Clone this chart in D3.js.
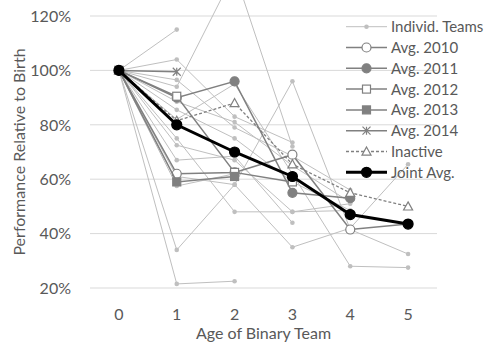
<!DOCTYPE html>
<html>
<head>
<meta charset="utf-8">
<script src="https://cdn.jsdelivr.net/npm/d3@7"></script>
<style>
  body { margin: 0; background: #fff; }
  text { font-family: Lato, "Open Sans", sans-serif; fill: #595959; }
</style>
</head>
<body>
<div id="chart"></div>
<script>
// Ages on the x axis and y tick values
var ages = [0, 1, 2, 3, 4, 5];
var yTicks = [20, 40, 60, 80, 100, 120];

// Individual teams (performance relative to birth, %)
var teams = [
  [100, 115],
  [100, 104, 83, 73.5],
  [100, 94, 136, 72],
  [100, 96.5, 79, 68.5, 56],
  [100, 88.5, 81, 65, 51.5],
  [100, 85.5, 75, 59, 48.5],
  [100, 82, 95, 62, 28, 27.5],
  [100, 72.5, 67, 48, 48.5],
  [100, 67, 68.5, 44],
  [100, 75, 48, 48, 51],
  [100, 34, 58, 96, 41.5, 32.5],
  [100, 21.5, 22.5],
  [100, 61, 58, 35, 42, 65.5],
  [100, 57.5, 62]
];

// Averages per cohort
var avg2010 = [100, 62, 62.5, 69, 41.5, 43.5];
var avg2011 = [100, 90, 96, 55, 53];
var avg2012 = [100, 90.5, 62.5, 59];
var avg2013 = [100, 59, 61];
var avg2014 = [100, 99.5];
var inactive = [100, 81.5, 88, 65.5, 55, 50];
var jointAvg = [100, 80, 70, 61, 47, 43.5];

var width = 486, height = 343;
var gray = "#808080", light = "#bfbfbf";

var svg = d3.select("#chart").append("svg")
  .attr("width", width)
  .attr("height", height);

var x = d3.scalePoint().domain(ages).range([90, 437]).padding(0.5);
var y = d3.scaleLinear().domain([20, 120]).range([288, 16]);

// gridlines
svg.append("g").selectAll("line")
  .data(yTicks)
  .enter().append("line")
  .attr("x1", 90).attr("x2", 437)
  .attr("y1", function(d) { return y(d); })
  .attr("y2", function(d) { return y(d); })
  .style("stroke", "#d9d9d9")
  .style("stroke-width", 1);

// y tick labels
svg.append("g").selectAll("text")
  .data(yTicks)
  .enter().append("text")
  .attr("x", 71)
  .attr("y", function(d) { return y(d); })
  .attr("dy", "0.36em")
  .attr("text-anchor", "end")
  .style("font-size", "16px")
  .text(function(d) { return d + "%"; });

// x tick labels
svg.append("g").selectAll("text")
  .data(ages)
  .enter().append("text")
  .attr("x", function(d) { return x(d); })
  .attr("y", 320)
  .attr("text-anchor", "middle")
  .style("font-size", "16px")
  .text(function(d) { return d; });

// axis titles
svg.append("text")
  .attr("x", (x(2) + x(3)) / 2)
  .attr("y", 339)
  .attr("text-anchor", "middle")
  .style("font-size", "16px")
  .text("Age of Binary Team");

svg.append("text")
  .attr("transform", "translate(25," + ((y(20) + y(120)) / 2) + ") rotate(-90)")
  .attr("text-anchor", "middle")
  .style("font-size", "16px")
  .text("Performance Relative to Birth");

var line = d3.line()
  .x(function(d, i) { return x(ages[i]); })
  .y(function(d) { return y(d); });

// marker drawing helper
function marker(g, type, cx, cy, opts) {
  var r = opts.r;
  if (type == "dot" || type == "circle" || type == "openCircle") {
    g.append("circle")
      .attr("cx", cx).attr("cy", cy).attr("r", r)
      .style("fill", type == "openCircle" ? "#fff" : opts.color)
      .style("stroke", opts.color)
      .style("stroke-width", type == "dot" ? 0 : 1.2);
  } else if (type == "square" || type == "openSquare") {
    g.append("rect")
      .attr("x", cx - r).attr("y", cy - r)
      .attr("width", 2 * r).attr("height", 2 * r)
      .style("fill", type == "openSquare" ? "#fff" : opts.color)
      .style("stroke", opts.color)
      .style("stroke-width", 1.2);
  } else if (type == "star") {
    var p = "M" + (cx - r) + "," + (cy - r) + "L" + (cx + r) + "," + (cy + r) +
      "M" + (cx - r) + "," + (cy + r) + "L" + (cx + r) + "," + (cy - r) +
      "M" + cx + "," + (cy - r) + "L" + cx + "," + (cy + r);
    g.append("path").attr("d", p)
      .style("fill", "none").style("stroke", opts.color).style("stroke-width", 1.2);
  } else if (type == "triangle") {
    var t = "M" + cx + "," + (cy - r) + "L" + (cx + r) + "," + (cy + r * 0.8) +
      "L" + (cx - r) + "," + (cy + r * 0.8) + "Z";
    g.append("path").attr("d", t)
      .style("fill", "#fff").style("stroke", opts.color).style("stroke-width", 1.2);
  }
}

var series = [];
teams.forEach(function(t) {
  series.push({ values: t, color: light, width: 1, marker: "dot", r: 2.3, dash: null });
});
series.push({ name: "Avg. 2010", values: avg2010, color: gray, width: 1.5, marker: "openCircle", r: 4.5 });
series.push({ name: "Avg. 2011", values: avg2011, color: gray, width: 1.5, marker: "circle", r: 4.5 });
series.push({ name: "Avg. 2012", values: avg2012, color: gray, width: 1.5, marker: "openSquare", r: 4 });
series.push({ name: "Avg. 2013", values: avg2013, color: gray, width: 1.5, marker: "square", r: 4 });
series.push({ name: "Avg. 2014", values: avg2014, color: gray, width: 1.5, marker: "star", r: 4 });
series.push({ name: "Inactive", values: inactive, color: gray, width: 1.3, marker: "triangle", r: 4.5, dash: "3,2" });
series.push({ name: "Joint Avg.", values: jointAvg, color: "#000", width: 3, marker: "circle", r: 5 });

var plot = svg.append("g");
series.forEach(function(s) {
  var g = plot.append("g");
  g.append("path")
    .datum(s.values)
    .attr("d", line)
    .style("fill", "none")
    .style("stroke", s.color)
    .style("stroke-width", s.width)
    .style("stroke-dasharray", s.dash || null);
  s.values.forEach(function(v, i) {
    marker(g, s.marker, x(ages[i]), y(v), { r: s.r, color: s.color });
  });
});

// legend
var legendItems = [
  { name: "Individ. Teams", color: light, width: 1, marker: "dot", r: 2.3 }
].concat(series.filter(function(s) { return s.name; }));

var legend = svg.append("g");
legendItems.forEach(function(s, i) {
  var ly = 26.7 + i * 20.8;
  var g = legend.append("g");
  g.append("line")
    .attr("x1", 346).attr("x2", 387)
    .attr("y1", ly).attr("y2", ly)
    .style("stroke", s.color)
    .style("stroke-width", s.width)
    .style("stroke-dasharray", s.dash || null);
  marker(g, s.marker, 366.5, ly, { r: s.r, color: s.color });
  g.append("text")
    .attr("x", 391)
    .attr("y", ly)
    .attr("dy", "0.36em")
    .style("font-size", "15px")
    .text(s.name);
});
</script>
</body>
</html>
